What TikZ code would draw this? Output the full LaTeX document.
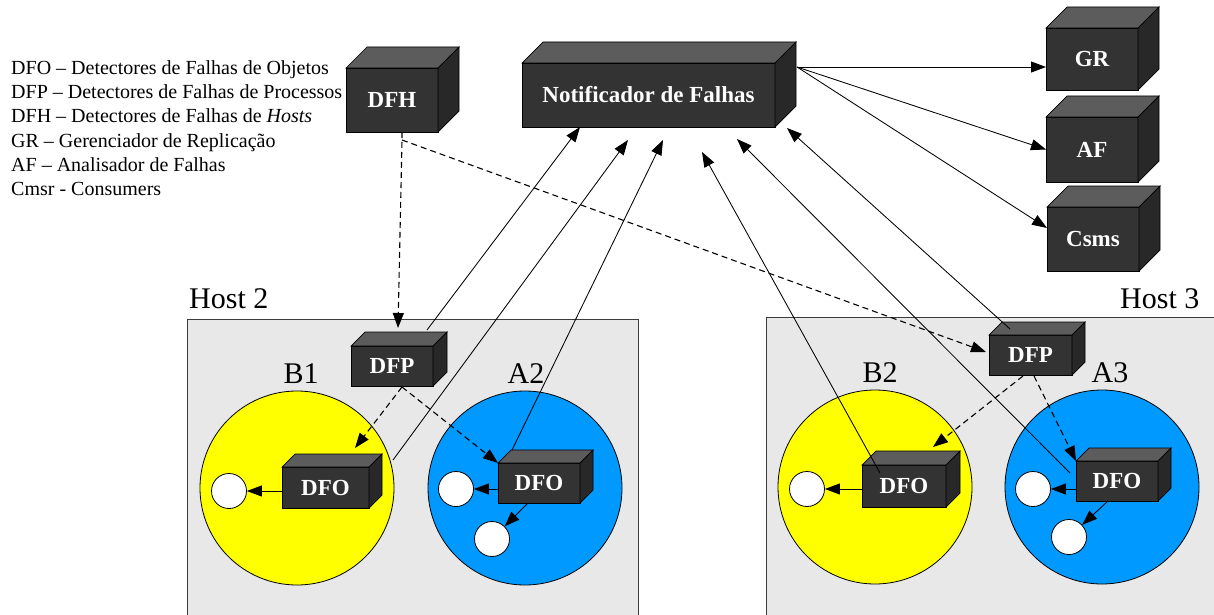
\documentclass[tikz,border=0pt]{standalone}
\usepackage{fontspec}
\setmainfont{Liberation Serif}
\usetikzlibrary{arrows.meta}

\definecolor{frontc}{RGB}{51,51,51}
\definecolor{topc}{RGB}{92,92,92}
\definecolor{sidec}{RGB}{40,40,40}
\definecolor{hostc}{RGB}{232,232,232}
\definecolor{hostline}{RGB}{60,60,60}
\definecolor{objyellow}{RGB}{255,255,0}
\definecolor{objblue}{RGB}{0,153,255}

% top and right faces of a box whose front face is the node #1, depth #2
\newcommand{\cubefaces}[2]{%
  \filldraw[fill=topc, draw=black, line width=0.7pt]
    (#1.north west) -- ++(#2,-#2) -- ([shift={(#2,-#2)}]#1.north east) -- (#1.north east) -- cycle;
  \filldraw[fill=sidec, draw=black, line width=0.7pt]
    (#1.north east) -- ++(#2,-#2) -- ([shift={(#2,-#2)}]#1.south east) -- (#1.south east) -- cycle;
}

\tikzset{
  cube/.style={rectangle, fill=frontc, draw=black, line width=0.7pt, text=white,
    font=\bfseries\fontsize{23}{23}\selectfont, inner sep=0pt, outer sep=0pt},
  hostbox/.style={fill=hostc, draw=hostline, line width=0.9pt},
  hostlabel/.style={anchor=base west, font=\fontsize{30}{30}\selectfont, inner sep=0pt},
  objlabel/.style={anchor=base, font=\fontsize{30}{30}\selectfont, inner sep=0pt},
  obj/.style={circle, draw=black, line width=0.8pt, minimum size=194pt, inner sep=0pt},
  inst/.style={circle, draw=black, fill=white, line width=0.8pt, minimum size=35pt, inner sep=0pt},
  legend/.style={anchor=base west, font=\fontsize{20}{24}\selectfont, inner sep=0pt},
  conn/.style={line width=0.85pt, -{Triangle[length=15pt,width=11pt]}},
  dconn/.style={conn, line width=1.1pt, dash pattern=on 6pt off 4pt},
}

\begin{document}
\begin{tikzpicture}[x=1pt, y=-1pt]
\useasboundingbox (0,0) rectangle (1214,615);
\clip (0,0) rectangle (1214,615);

% hosts
\draw[hostbox] (187,319) rectangle (638,640);
\draw[hostbox] (766,317) rectangle (1240,640);
\node[hostlabel] (h2) at (189,308) {Host 2};
\node[hostlabel] (h3) at (1120,308) {Host 3};

% objects
\node[obj, fill=objyellow] (B1) at (297,488) {};
\node[obj, fill=objblue]   (A2) at (525,488) {};
\node[obj, fill=objyellow] (B2) at (875,487) {};
\node[obj, fill=objblue]   (A3) at (1102,487) {};
\node[objlabel] (lB1) at (301,383) {B1};
\node[objlabel] (lA2) at (526,383) {A2};
\node[objlabel] (lB2) at (880,382) {B2};
\node[objlabel] (lA3) at (1110,382) {A3};

% object instances
\node[inst] (i1) at (229,491) {};
\node[inst] (i2) at (456,489) {};
\node[inst] (i3) at (492,539) {};
\node[inst] (i4) at (807,489) {};
\node[inst] (i5) at (1033,489) {};
\node[inst] (i6) at (1069,537) {};

% legend
\node[legend] (l1) at (11,75)  {DFO – Detectores de Falhas de Objetos};
\node[legend] (l2) at (11,99)  {DFP – Detectores de Falhas de Processos};
\node[legend] (l3) at (11,123) {DFH – Detectores de Falhas de \textit{Hosts}};
\node[legend] (l4) at (11,147) {GR – Gerenciador de Replicação};
\node[legend] (l5) at (11,171) {AF – Analisador de Falhas};
\node[legend] (l6) at (11,195) {Cmsr - Consumers};

% components
\node[cube, minimum width=92pt, minimum height=64pt] (DFH) at (392,100) {DFH};
\cubefaces{DFH}{21}
\node[cube, minimum width=253pt, minimum height=64pt] (NF) at (648.5,95) {Notificador de Falhas};
\cubefaces{NF}{21}
\node[cube, minimum width=92pt, minimum height=62pt] (GR) at (1092,59) {GR};
\cubefaces{GR}{21}
\node[cube, minimum width=92pt, minimum height=65pt] (AF) at (1092,149.5) {AF};
\cubefaces{AF}{21}
\node[cube, minimum width=92pt, minimum height=64pt] (CS) at (1093,239) {Csms};
\cubefaces{CS}{21}

\node[cube, minimum width=82pt, minimum height=40pt] (DFP2) at (392,366) {DFP};
\cubefaces{DFP2}{14}
\node[cube, minimum width=87pt, minimum height=41pt] (DFOB1) at (325.5,487.5) {DFO};
\cubefaces{DFOB1}{13}
\node[cube, minimum width=82pt, minimum height=40pt] (DFOA2) at (539,483) {DFO};
\cubefaces{DFOA2}{13}
\node[cube, minimum width=83pt, minimum height=40pt] (DFP3) at (1030.5,355) {DFP};
\cubefaces{DFP3}{13}
\node[cube, minimum width=84pt, minimum height=42pt] (DFOB2) at (904,486) {DFO};
\cubefaces{DFOB2}{14}
\node[cube, minimum width=82pt, minimum height=40pt] (DFOA3) at (1117,481) {DFO};
\cubefaces{DFOA3}{13}

% connector end points
\coordinate (nfout) at (797,67);
\coordinate (dfhout) at (402,140);
\coordinate (p2in) at (398,328);
\coordinate (p3in) at (986,352);
\coordinate (t1) at (580,127);
\coordinate (t2) at (628,140);
\coordinate (t3) at (663,140);
\coordinate (t4) at (702,152);
\coordinate (t5) at (737,139);
\coordinate (t6) at (787,128);
\coordinate (s1) at (427,330);
\coordinate (s2) at (393,460);
\coordinate (s3) at (512,450);
\coordinate (s4) at (880,473);
\coordinate (s5) at (1070,473);
\coordinate (s6) at (1010,329);
\coordinate (p2a) at (402,387);
\coordinate (b1in) at (355,448);
\coordinate (p3a) at (1023,376);
\coordinate (p3b) at (1034,376);
\coordinate (b2in) at (933,447);

% notifier outputs
\draw[conn] (nfout) -- ([yshift=-8pt]GR.west);
\draw[conn] (nfout) -- (AF.west);
\draw[conn] (nfout) -- ([yshift=11pt]CS.west);

% host fault detector monitoring
\draw[dconn] (DFH.south -| dfhout) -- (dfhout) -- (p2in);
\draw[dconn] (dfhout) -- (p3in);

% process detectors to object detectors
\draw[dconn] (p2a) -- (b1in);
\draw[dconn] (p2a) -- (DFOA2.north west);
\draw[dconn] (p3a) -- (b2in);
\draw[dconn] (p3b) -- (DFOA3.north west);

% object detectors to instances
\draw[conn] (DFOB1.west |- i1) -- (i1);
\draw[conn] (DFOA2.west |- i2) -- (i2);
\draw[conn] ([xshift=-11pt]DFOA2.south) -- (i3);
\draw[conn] (DFOB2.west |- i4) -- (i4);
\draw[conn] (DFOA3.west |- i5) -- (i5);
\draw[conn] ([xshift=-9pt]DFOA3.south) -- (i6);

% notifications to the fault notifier
\draw[conn] (s1) -- (t1);
\draw[conn] (s2) -- (t2);
\draw[conn] (s3) -- (t3);
\draw[conn] (s4) -- (t4);
\draw[conn] (s5) -- (t5);
\draw[conn] (s6) -- (t6);
\end{tikzpicture}
\end{document}
